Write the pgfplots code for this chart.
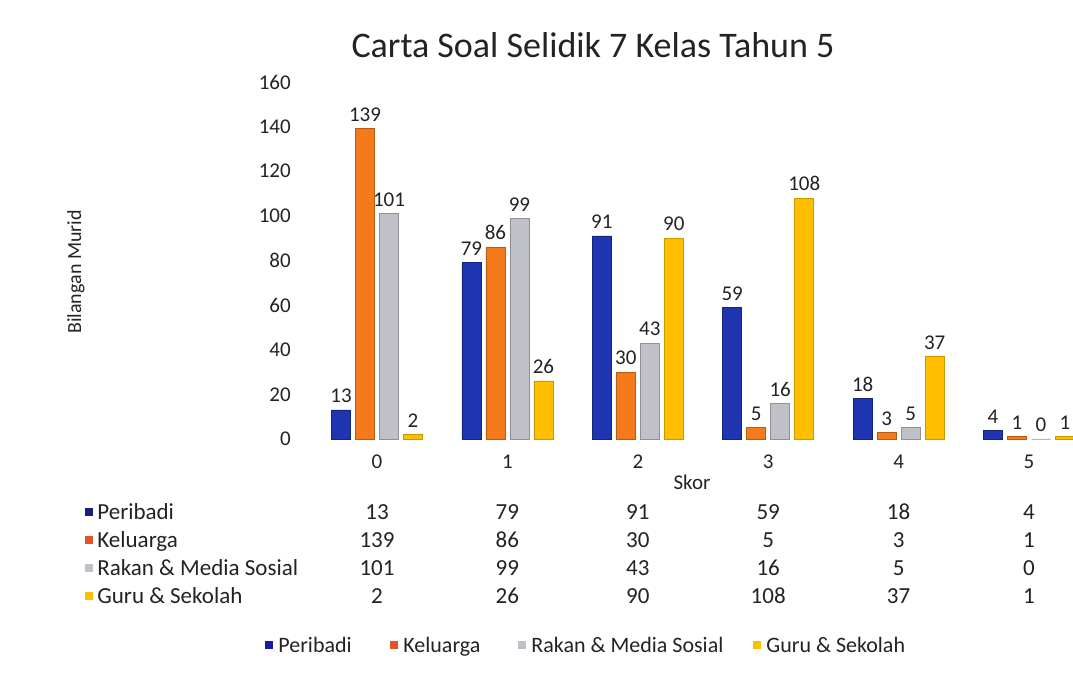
\documentclass[border=0pt]{standalone}
\usepackage{fontspec}
\setmainfont{Carlito}
\usepackage{pgfplots}
\pgfplotsset{compat=1.18}
\definecolor{cP}{RGB}{30,52,176}
\definecolor{cK}{RGB}{245,122,28}
\definecolor{cR}{RGB}{192,192,200}
\definecolor{cG}{RGB}{255,190,0}
\definecolor{mP}{RGB}{22,32,118}
\definecolor{mK}{RGB}{225,82,45}
\definecolor{lP}{RGB}{25,25,170}
\definecolor{txt}{RGB}{35,35,35}
\begin{document}
\begin{tikzpicture}
\useasboundingbox (0,0) rectangle (536.5pt,-344.5pt);
\fill[white] (0,0) rectangle (536.5pt,-344.5pt);
\begin{axis}[
  at={(155.9pt,-219.5pt)}, anchor=south west,
  scale only axis, width=380.8pt, height=178.5pt,
  xmin=-0.5, xmax=5.34, ymin=0, ymax=160,
  ytick={0,20,...,160}, xtick={0,1,2,3,4,5},
  axis line style={draw=none}, major tick style={draw=none},
  ybar=2.5pt, bar width=9.5pt,
  nodes near coords,
  every node near coord/.append style={font=\fontsize{10.5}{12}\selectfont, text=txt},
  tick label style={font=\fontsize{10.5}{12}\selectfont, text=txt},
  /pgf/number format/assume math mode=true,
  yticklabel style={xshift=-7pt},
  clip=false,
]
\addplot[fill=cP, draw=cP!70!black, line width=0.4pt] coordinates {(0,13) (1,79) (2,91) (3,59) (4,18) (5,4)};
\addplot[fill=cK, draw=cK!75!black, line width=0.4pt] coordinates {(0,139) (1,86) (2,30) (3,5) (4,3) (5,1)};
\addplot[fill=cR, draw=cR!75!black, line width=0.4pt] coordinates {(0,101) (1,99) (2,43) (3,16) (4,5) (5,0)};
\addplot[fill=cG, draw=cG!80!black, line width=0.4pt] coordinates {(0,2) (1,26) (2,90) (3,108) (4,37) (5,1)};
\end{axis}
\begin{scope}[x=0.5pt,y=-0.5pt]
\node[font=\fontsize{18}{21}\selectfont, text=txt] at (593,45) {Carta Soal Selidik 7 Kelas Tahun 5};
\node[font=\fontsize{10}{12}\selectfont, text=txt, rotate=90] at (76,272) {Bilangan Murid};
\node[font=\fontsize{10.5}{12}\selectfont, text=txt] at (692,482) {Skor};
% data table
\def\rowfont{\fontsize{11.5}{13}\selectfont}
\foreach \lab/\col/\yy/\vals in {Peribadi/mP/512/{13,79,91,59,18,4}, Keluarga/mK/540/{139,86,30,5,3,1}, Rakan \& Media Sosial/cR/568/{101,99,43,16,5,0}, Guru \& Sekolah/cG/596/{2,26,90,108,37,1}} {
  \fill[\col] (85,\yy-4) rectangle (93,\yy+4);
  \node[anchor=base west, font=\rowfont, text=txt, inner sep=0] at (97,\yy+8) {\lab};
  \foreach \v [count=\i from 0] in \vals {
    \node[anchor=base, font=\rowfont, text=txt, inner sep=0] at (377+130.4*\i,\yy+8) {\v};
  }
}
% bottom legend
\def\legfont{\fontsize{11}{13}\selectfont}
\foreach \xx/\col/\lab in {269/lP/Peribadi, 394/mK/Keluarga, 522/cR/Rakan \& Media Sosial, 757/cG/Guru \& Sekolah} {
  \fill[\col] (\xx-4,645-4) rectangle (\xx+4,645+4);
  \node[anchor=base west, font=\legfont, text=txt, inner sep=0] at (\xx+9,645+8) {\lab};
}
\end{scope}
\end{tikzpicture}
\end{document}
